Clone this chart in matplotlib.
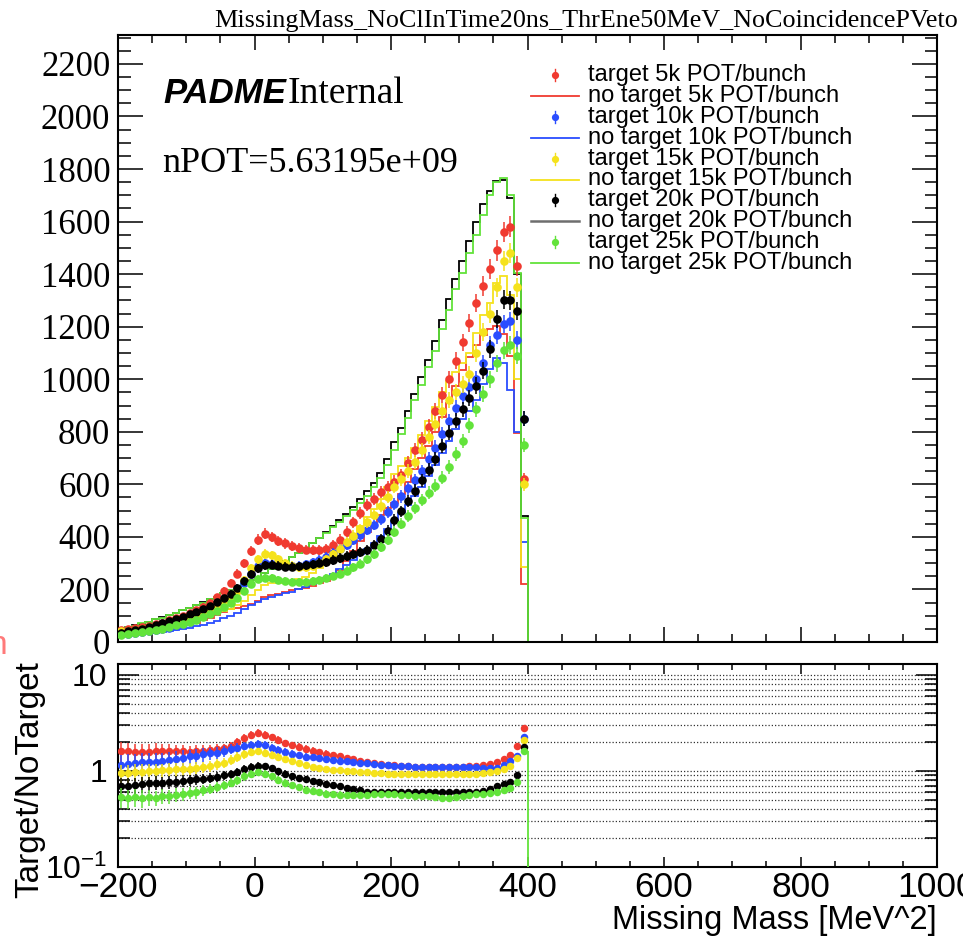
import numpy as np
import matplotlib
matplotlib.use("Agg")
import matplotlib.pyplot as plt
from matplotlib.ticker import MultipleLocator, FixedLocator, FixedFormatter, NullFormatter
from matplotlib.lines import Line2D

plt.rcParams['font.family'] = ['Liberation Sans', 'DejaVu Sans']
plt.rcParams['mathtext.fontset'] = 'custom'
plt.rcParams['mathtext.rm'] = 'Liberation Sans'
plt.rcParams['mathtext.it'] = 'Liberation Sans:italic'
plt.rcParams['mathtext.bf'] = 'Liberation Sans:bold'

# ---------------- data ----------------
bin_edges = list(range(-200, 401, 10))      # histogram bins (MeV^2)
empty_edge = 600                            # histogram range end (empty beyond 400)

target_5k = [45, 48, 52, 57, 62, 68, 74, 82, 90, 100,
             110, 120, 135, 150, 170, 195, 225, 260, 300, 345,
             390, 412, 400, 385, 375, 365, 358, 352, 350, 350,
             355, 370, 390, 420, 455, 490, 520, 545, 570, 590,
             610, 635, 680, 730, 770, 820, 880, 940, 1000, 1070,
             1140, 1215, 1290, 1355, 1420, 1490, 1560, 1580, 1430, 620]
notarget_5k = [28, 30, 33, 36, 39, 42, 46, 51, 56, 62,
               69, 74, 83, 91, 101, 113, 125, 130, 136, 144,
               156, 172, 178, 183, 192, 197, 201, 207, 215, 223,
               234, 252, 275, 307, 345, 383, 419, 450, 483, 509,
               530, 562, 607, 658, 700, 745, 800, 855, 909, 973,
               1036, 1085, 1132, 1168, 1193, 1202, 1173, 1090, 794, 221]
target_10k = [29, 32, 35, 38, 41, 45, 50, 55, 62, 69,
              78, 86, 98, 111, 126, 144, 170, 196, 225, 259,
              289, 300, 298, 294, 290, 288, 290, 296, 304, 313,
              323, 338, 353, 370, 388, 406, 426, 446, 467, 495,
              524, 554, 585, 616, 649, 695, 740, 790, 840, 890,
              935, 970, 1000, 1060, 1130, 1170, 1210, 1220, 1150, 850]
notarget_10k = [25, 27, 29, 31, 33, 36, 39, 42, 46, 50,
                55, 60, 66, 73, 81, 90, 100, 112, 125, 140,
                152, 162, 170, 178, 185, 192, 200, 210, 220, 232,
                245, 260, 276, 294, 313, 333, 355, 378, 403, 430,
                460, 490, 522, 555, 590, 632, 673, 718, 764, 809,
                850, 880, 920, 980, 1040, 1080, 1060, 960, 800, 380]
target_15k = [40, 43, 47, 51, 56, 61, 66, 72, 78, 85,
              92, 100, 109, 119, 131, 145, 165, 195, 235, 280,
              315, 335, 330, 315, 300, 290, 285, 285, 290, 300,
              315, 333, 355, 380, 405, 430, 457, 485, 518, 553,
              590, 620, 650, 685, 730, 780, 830, 880, 920, 950,
              980, 1020, 1100, 1180, 1250, 1350, 1450, 1480, 1350, 600]
notarget_15k = [42, 45, 48, 52, 56, 61, 65, 70, 75, 81,
                87, 93, 99, 105, 111, 119, 127, 139, 157, 177,
                197, 216, 223, 225, 226, 230, 238, 248, 264, 280,
                300, 324, 350, 380, 410, 443, 474, 506, 546, 588,
                638, 670, 701, 739, 788, 842, 896, 950, 993, 1026,
                1060, 1100, 1175, 1245, 1290, 1365, 1394, 1321, 1000, 286]
target_20k = [36, 40, 45, 51, 58, 65, 71, 79, 87, 96,
              105, 116, 125, 138, 151, 167, 183, 205, 232, 258,
              280, 292, 294, 290, 287, 286, 288, 292, 296, 301,
              304, 312, 320, 328, 335, 342, 350, 369, 393, 424,
              464, 497, 537, 576, 616, 656, 698, 747, 796, 842,
              885, 930, 976, 1032, 1115, 1229, 1302, 1301, 1260, 850]
notarget_20k = [52, 57, 63, 70, 78, 86, 94, 103, 112, 121,
                131, 141, 151, 162, 173, 185, 197, 210, 222, 235,
                248, 262, 277, 292, 307, 323, 340, 358, 376, 396,
                417, 440, 464, 489, 515, 543, 573, 605, 645, 695,
                760, 815, 880, 945, 1010, 1075, 1145, 1225, 1305, 1380,
                1450, 1525, 1600, 1665, 1715, 1755, 1760, 1690, 1400, 480]
target_25k = [27, 30, 33, 37, 41, 46, 51, 57, 63, 70,
              77, 85, 95, 106, 118, 132, 148, 168, 195, 222,
              240, 245, 242, 236, 232, 230, 230, 230, 233, 237,
              242, 250, 260, 272, 284, 298, 315, 335, 360, 390,
              420, 450, 480, 510, 540, 568, 595, 625, 665, 715,
              765, 825, 885, 945, 1000, 1060, 1110, 1130, 1090, 750]
notarget_25k = [50, 58, 62, 71, 77, 87, 93, 104, 111, 122,
                130, 142, 150, 163, 172, 186, 196, 211, 221, 236,
                247, 263, 276, 293, 306, 324, 339, 359, 375, 397,
                416, 438, 458, 481, 502, 528, 555, 588, 625, 675,
                731, 793, 852, 920, 978, 1046, 1108, 1191, 1263, 1342,
                1404, 1482, 1549, 1625, 1700, 1750, 1765, 1700, 1405, 470]

labels_target = ["target 5k POT/bunch", "target 10k POT/bunch", "target 15k POT/bunch",
                 "target 20k POT/bunch", "target 25k POT/bunch"]
labels_notarget = ["no target 5k POT/bunch", "no target 10k POT/bunch", "no target 15k POT/bunch",
                   "no target 20k POT/bunch", "no target 25k POT/bunch"]
colors = ['#f03a30', '#2a4dff', '#f5e21c', '#000000', '#62e33a']
legend_line_colors = ['#f03a30', '#2a4dff', '#f5e21c', '#6e6e6e', '#62e33a']

title = "MissingMass_NoClInTime20ns_ThrEne50MeV_NoCoincidencePVeto"
npot_text = "nPOT=5.63195e+09"
top_yticks = [0, 200, 400, 600, 800, 1000, 1200, 1400, 1600, 1800, 2000, 2200]
ratio_ticks = [0.1, 1, 10]
ratio_ticklabels = ['$10^{-1}$', '1', '10']

# ---------------- figure ----------------
W, H = 963, 940
fig = plt.figure(figsize=(W / 100, H / 100), dpi=100)


def fx(px):
    return px / W


def fy(py):
    return 1 - py / H


ax = fig.add_axes([fx(118), fy(642), fx(937) - fx(118), fy(35) - fy(642)])
axr = fig.add_axes([fx(118), fy(867), fx(937) - fx(118), fy(664) - fy(867)])

edges = np.array(bin_edges, float)
centers = 0.5 * (edges[:-1] + edges[1:])
edges_ext = np.append(edges, empty_edge)

tg = [target_5k, target_10k, target_15k, target_20k, target_25k]
nt = [notarget_5k, notarget_10k, notarget_15k, notarget_20k, notarget_25k]

ratios = []
for k in range(5):
    t = np.array(tg[k], float)
    n = np.array(nt[k], float)
    c = colors[k]
    ax.stairs(np.append(n, 0.0), edges_ext, baseline=None, color=c, lw=1.3,
              zorder=2 + 0.1 * k, clip_on=False)
    ax.errorbar(centers, t, yerr=np.sqrt(t), fmt='o', ms=6.2, color=c, ecolor=c,
                elinewidth=1.1, capsize=0, mew=0, zorder=3 + k)
    r = t / n
    er = r * np.sqrt(1.0 / t + 1.0 / n)
    ratios.append(r)
    axr.errorbar(centers, r, yerr=er, fmt='o', ms=5.4, color=c, ecolor=c,
                 elinewidth=1.1, capsize=0, mew=0, zorder=3 + k)

# top panel axes
ax.set_xlim(-200, 1000)
ax.set_ylim(0, 2310)
ax.xaxis.set_major_locator(MultipleLocator(200))
ax.xaxis.set_minor_locator(MultipleLocator(50))
ax.yaxis.set_major_locator(FixedLocator(top_yticks))
ax.yaxis.set_minor_locator(MultipleLocator(50))
ax.tick_params(axis='both', which='both', direction='in', top=True, right=True,
               width=1.1, labelbottom=False)
ax.tick_params(axis='x', which='major', length=11)
ax.tick_params(axis='x', which='minor', length=5.5)
ax.tick_params(axis='y', which='major', length=18, pad=5.5, labelsize=25)
ax.tick_params(axis='y', which='minor', length=9)
for lab in ax.get_yticklabels():
    lab.set_fontfamily('Liberation Serif')
for s in ax.spines.values():
    s.set_linewidth(1.5)

# ratio panel axes
axr.set_yscale('log')
axr.set_xlim(-200, 1000)
axr.set_ylim(0.1, 13)
axr.yaxis.set_major_locator(FixedLocator(ratio_ticks))
axr.yaxis.set_major_formatter(FixedFormatter(ratio_ticklabels))
minors = [m * d for d in (0.1, 1) for m in range(2, 10)]
axr.yaxis.set_minor_locator(FixedLocator(minors))
axr.yaxis.set_minor_formatter(NullFormatter())
axr.xaxis.set_major_locator(MultipleLocator(200))
axr.xaxis.set_minor_locator(MultipleLocator(50))
axr.tick_params(axis='both', which='both', direction='in', top=True, right=True, width=1.1)
axr.tick_params(axis='x', which='major', length=7, pad=3, labelsize=25.5)
axr.tick_params(axis='x', which='minor', length=4)
axr.tick_params(axis='y', which='major', length=15, pad=8, labelsize=23)
axr.tick_params(axis='y', which='minor', length=8.5)
axr.yaxis.grid(True, which='both', linestyle=(0, (1, 1.6)), color='#333333', lw=0.9)
for s in axr.spines.values():
    s.set_linewidth(1.5)
# last ratio bin of the 25k series drops to the empty region
axr.vlines(edges[-1], 0.1, ratios[4][-1], color=colors[4], lw=1.3, zorder=9)

fig.text(fx(937), fy(929), "Missing Mass [MeV^2]", fontsize=23.5, ha='right',
         va='baseline')
fig.text(fx(30), fy(780), "Target/NoTarget", rotation=90, fontsize=24,
         ha='center', va='center')

# texts
fig.text(fx(958), fy(27), title, ha='right', va='baseline',
         family='Liberation Serif', fontsize=18.8)
t1 = fig.text(fx(163), fy(103), "PADME", fontsize=25, fontweight='bold',
              fontstyle='italic', va='baseline')
fig.canvas.draw()
bb = t1.get_window_extent()
fig.text(bb.x1 / W + 0.002, fy(103), "Internal", family='Liberation Serif',
         fontsize=27, va='baseline')
fig.text(fx(162), fy(172), npot_text, family='Liberation Serif', fontsize=26,
         va='baseline')

# legend (manual, ROOT-like)
for i in range(10):
    k = i // 2
    yc = fy(75 + 20.9 * i)
    if i % 2 == 0:
        fig.add_artist(Line2D([fx(555), fx(555)], [yc - 6 / H, yc + 6 / H],
                              color=colors[k], lw=1.0))
        fig.add_artist(Line2D([fx(555)], [yc], marker='o', ms=5.2, mew=0,
                              color=colors[k]))
        lab = labels_target[k]
    else:
        fig.add_artist(Line2D([fx(531), fx(579)], [yc, yc], color=legend_line_colors[k],
                              lw=1.8 if k == 3 else 1.3))
        lab = labels_notarget[k]
    fig.text(fx(588), yc, lab, fontsize=17, va='center', ha='left')

# cropped red glyph at the left edge of the screenshot
fig.text(fx(-11), fy(654), "n", color='#ff7a7a', fontsize=24, va='baseline')

fig.savefig("out.png", dpi=100)
